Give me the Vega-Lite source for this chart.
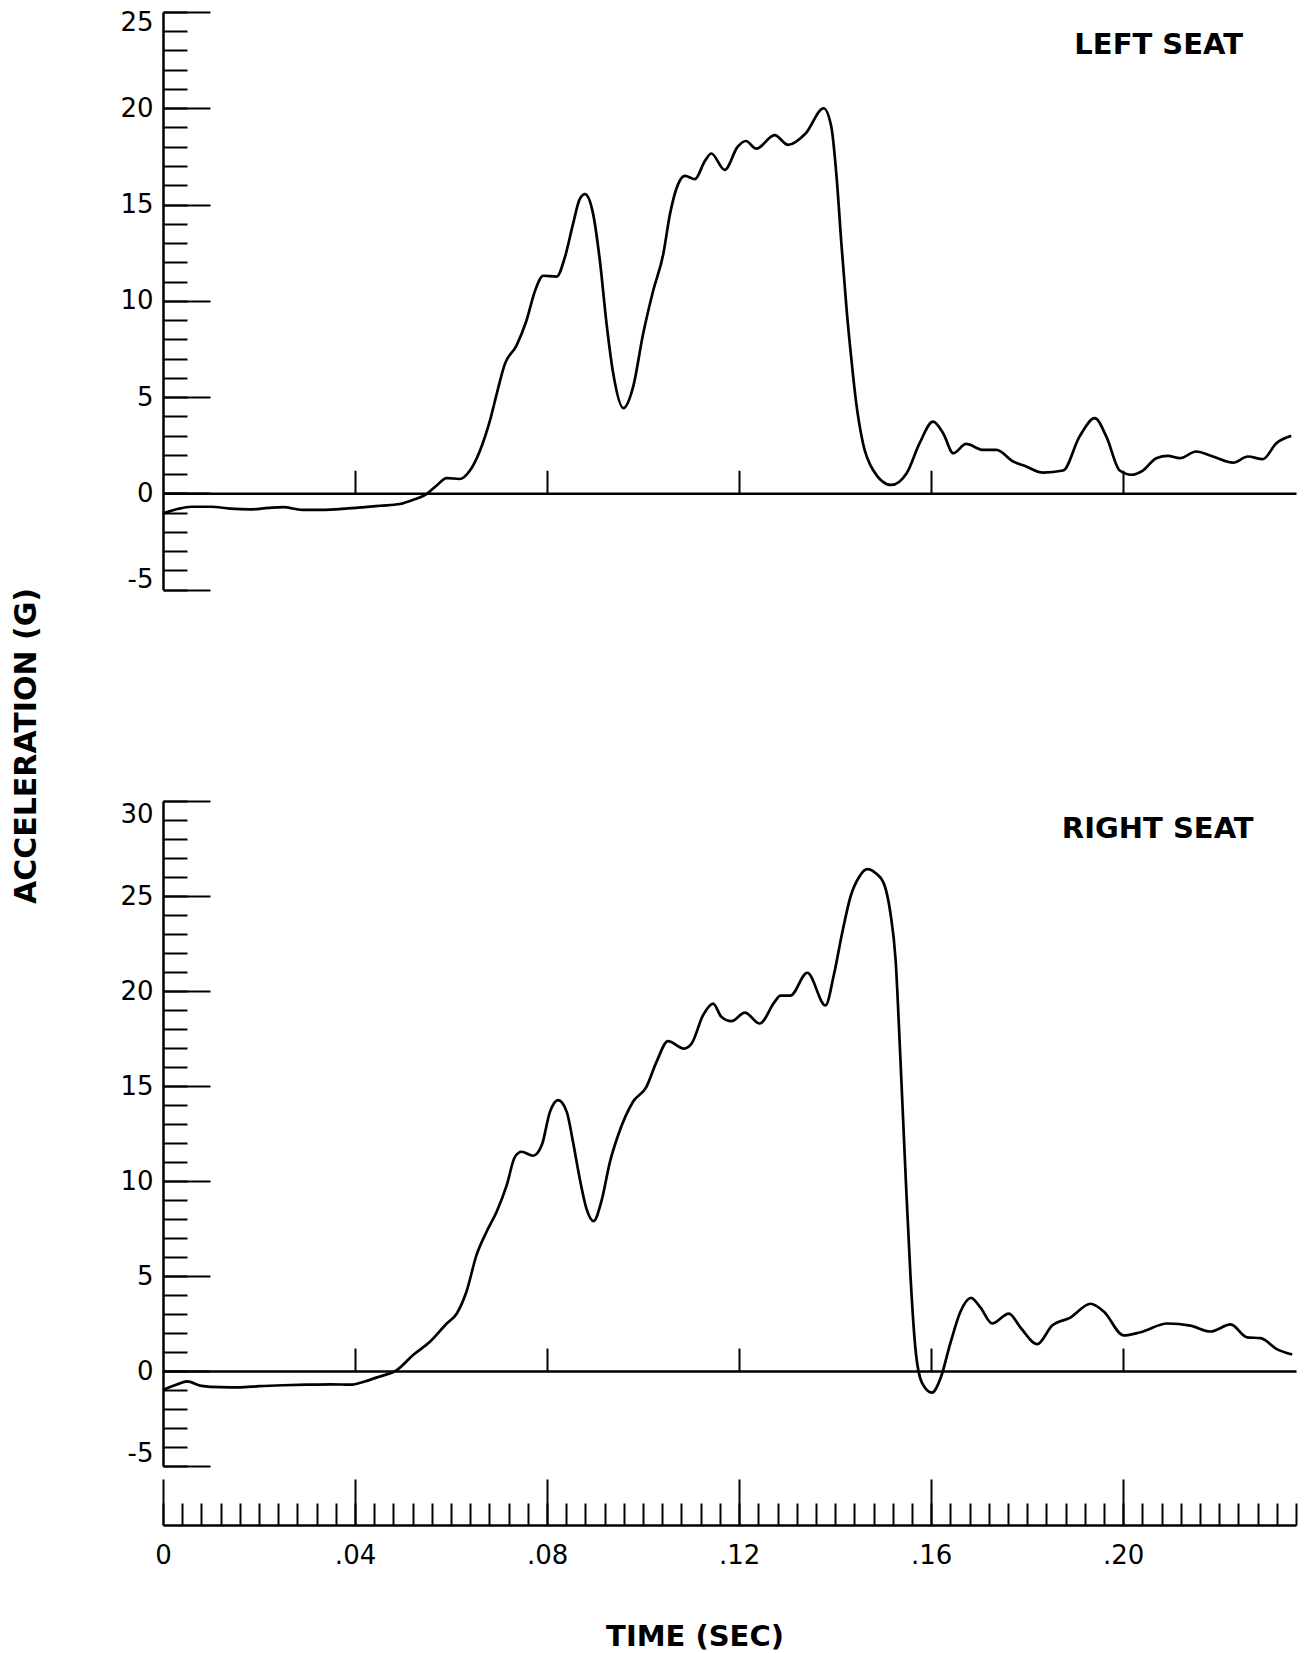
{
  "$schema": "https://vega.github.io/schema/vega-lite/v6.json",
  "background": "white",
  "padding": {"left": 11, "top": 9, "right": 0, "bottom": 0},
  "autosize": {"type": "pad"},
  "config": {
    "view": {"stroke": null},
    "axis": {"grid": false, "labelOverlap": false}
  },
  "datasets": {
    "left": [
      {"t": 0.000, "g": -1.05}, {"t": 0.003, "g": -0.82}, {"t": 0.006, "g": -0.70}, {"t": 0.010, "g": -0.70},
      {"t": 0.014, "g": -0.80}, {"t": 0.018, "g": -0.84}, {"t": 0.022, "g": -0.76}, {"t": 0.025, "g": -0.72},
      {"t": 0.029, "g": -0.86}, {"t": 0.033, "g": -0.86}, {"t": 0.038, "g": -0.80}, {"t": 0.042, "g": -0.72},
      {"t": 0.0452, "g": -0.65}, {"t": 0.0493, "g": -0.56}, {"t": 0.0520, "g": -0.35}, {"t": 0.0549, "g": -0.04},
      {"t": 0.0570, "g": 0.40}, {"t": 0.0591, "g": 0.79}, {"t": 0.0618, "g": 0.74}, {"t": 0.0639, "g": 1.17},
      {"t": 0.0660, "g": 2.2}, {"t": 0.0681, "g": 3.77}, {"t": 0.0695, "g": 5.15}, {"t": 0.0712, "g": 6.71},
      {"t": 0.0736, "g": 7.66}, {"t": 0.0757, "g": 8.96}, {"t": 0.0775, "g": 10.52}, {"t": 0.0792, "g": 11.3},
      {"t": 0.0820, "g": 11.25}, {"t": 0.0837, "g": 12.25}, {"t": 0.0854, "g": 13.98}, {"t": 0.0868, "g": 15.28},
      {"t": 0.0879, "g": 15.54}, {"t": 0.0896, "g": 14.5}, {"t": 0.0910, "g": 12.08}, {"t": 0.0924, "g": 8.79},
      {"t": 0.0938, "g": 6.19}, {"t": 0.0959, "g": 4.42}, {"t": 0.0979, "g": 5.5}, {"t": 0.1000, "g": 8.27},
      {"t": 0.1021, "g": 10.52}, {"t": 0.1042, "g": 12.42}, {"t": 0.1056, "g": 14.5}, {"t": 0.1073, "g": 16.06},
      {"t": 0.1087, "g": 16.49}, {"t": 0.1108, "g": 16.32}, {"t": 0.1129, "g": 17.27}, {"t": 0.1142, "g": 17.65},
      {"t": 0.1170, "g": 16.8}, {"t": 0.1197, "g": 18.0}, {"t": 0.1214, "g": 18.3}, {"t": 0.1236, "g": 17.9},
      {"t": 0.1274, "g": 18.6}, {"t": 0.1302, "g": 18.1}, {"t": 0.1339, "g": 18.7}, {"t": 0.1376, "g": 20.0},
      {"t": 0.1392, "g": 19.05}, {"t": 0.1403, "g": 16.45}, {"t": 0.1413, "g": 12.99}, {"t": 0.1424, "g": 9.53},
      {"t": 0.1434, "g": 6.93}, {"t": 0.1444, "g": 4.68}, {"t": 0.1458, "g": 2.6}, {"t": 0.1479, "g": 1.21},
      {"t": 0.1517, "g": 0.43}, {"t": 0.1549, "g": 1.04}, {"t": 0.1576, "g": 2.6}, {"t": 0.1604, "g": 3.72},
      {"t": 0.1625, "g": 3.12}, {"t": 0.1646, "g": 2.08}, {"t": 0.1673, "g": 2.56}, {"t": 0.1708, "g": 2.25},
      {"t": 0.1736, "g": 2.25}, {"t": 0.1771, "g": 1.65}, {"t": 0.1798, "g": 1.39}, {"t": 0.1833, "g": 1.07},
      {"t": 0.1875, "g": 1.18}, {"t": 0.1909, "g": 2.94}, {"t": 0.1941, "g": 3.9}, {"t": 0.1965, "g": 2.94},
      {"t": 0.1993, "g": 1.18}, {"t": 0.2017, "g": 0.96}, {"t": 0.2041, "g": 1.18}, {"t": 0.2069, "g": 1.82},
      {"t": 0.2093, "g": 1.94}, {"t": 0.2118, "g": 1.82}, {"t": 0.2152, "g": 2.17}, {"t": 0.2187, "g": 1.91},
      {"t": 0.2229, "g": 1.59}, {"t": 0.2260, "g": 1.91}, {"t": 0.2291, "g": 1.77}, {"t": 0.2319, "g": 2.6},
      {"t": 0.2350, "g": 2.98}
    ],
    "right": [
      {"t": 0.000, "g": -1.0}, {"t": 0.003, "g": -0.70}, {"t": 0.005, "g": -0.55}, {"t": 0.008, "g": -0.78},
      {"t": 0.012, "g": -0.85}, {"t": 0.016, "g": -0.86}, {"t": 0.020, "g": -0.80}, {"t": 0.025, "g": -0.75},
      {"t": 0.030, "g": -0.72}, {"t": 0.035, "g": -0.70}, {"t": 0.039, "g": -0.72}, {"t": 0.042, "g": -0.55},
      {"t": 0.045, "g": -0.30}, {"t": 0.0487, "g": 0.05}, {"t": 0.0521, "g": 0.84}, {"t": 0.0556, "g": 1.54},
      {"t": 0.0591, "g": 2.5}, {"t": 0.0612, "g": 3.03}, {"t": 0.0632, "g": 4.17}, {"t": 0.0653, "g": 6.1},
      {"t": 0.0674, "g": 7.33}, {"t": 0.0695, "g": 8.38}, {"t": 0.0716, "g": 9.78}, {"t": 0.0733, "g": 11.27},
      {"t": 0.0747, "g": 11.54}, {"t": 0.0771, "g": 11.33}, {"t": 0.0789, "g": 11.89}, {"t": 0.0806, "g": 13.64},
      {"t": 0.0823, "g": 14.26}, {"t": 0.0841, "g": 13.64}, {"t": 0.0854, "g": 12.06}, {"t": 0.0868, "g": 10.13},
      {"t": 0.0882, "g": 8.55}, {"t": 0.0897, "g": 7.89}, {"t": 0.0913, "g": 8.91}, {"t": 0.0931, "g": 11.01},
      {"t": 0.0948, "g": 12.41}, {"t": 0.0979, "g": 14.17}, {"t": 0.1007, "g": 14.96}, {"t": 0.1028, "g": 16.27},
      {"t": 0.1052, "g": 17.36}, {"t": 0.1085, "g": 16.97}, {"t": 0.1101, "g": 17.23}, {"t": 0.1125, "g": 18.73},
      {"t": 0.1146, "g": 19.34}, {"t": 0.1163, "g": 18.64}, {"t": 0.1184, "g": 18.41}, {"t": 0.1212, "g": 18.86},
      {"t": 0.1243, "g": 18.29}, {"t": 0.1274, "g": 19.43}, {"t": 0.1286, "g": 19.76}, {"t": 0.1307, "g": 19.76},
      {"t": 0.1342, "g": 20.96}, {"t": 0.1380, "g": 19.24}, {"t": 0.1397, "g": 20.8}, {"t": 0.1415, "g": 23.09},
      {"t": 0.1432, "g": 24.96}, {"t": 0.1450, "g": 26.0}, {"t": 0.1467, "g": 26.41}, {"t": 0.1484, "g": 26.21},
      {"t": 0.1501, "g": 25.69}, {"t": 0.1515, "g": 24.13}, {"t": 0.1526, "g": 21.63}, {"t": 0.1536, "g": 16.43},
      {"t": 0.1547, "g": 10.19}, {"t": 0.1557, "g": 4.99}, {"t": 0.1567, "g": 1.25}, {"t": 0.1581, "g": -0.62},
      {"t": 0.1602, "g": -1.14}, {"t": 0.1619, "g": -0.42}, {"t": 0.1640, "g": 1.46}, {"t": 0.1661, "g": 3.12},
      {"t": 0.1683, "g": 3.85}, {"t": 0.1703, "g": 3.33}, {"t": 0.1727, "g": 2.50}, {"t": 0.1762, "g": 3.02},
      {"t": 0.1786, "g": 2.29}, {"t": 0.1821, "g": 1.41}, {"t": 0.1852, "g": 2.39}, {"t": 0.1890, "g": 2.81},
      {"t": 0.1932, "g": 3.54}, {"t": 0.1960, "g": 3.12}, {"t": 0.2001, "g": 1.87}, {"t": 0.2036, "g": 2.04},
      {"t": 0.2092, "g": 2.50}, {"t": 0.2140, "g": 2.39}, {"t": 0.2182, "g": 2.08}, {"t": 0.2224, "g": 2.45},
      {"t": 0.2258, "g": 1.77}, {"t": 0.2286, "g": 1.73}, {"t": 0.2321, "g": 1.14}, {"t": 0.2352, "g": 0.87}
    ]
  },
  "bounds": "flush",
  "spacing": 211,
  "vconcat": [
    {
      "width": 1133,
      "height": 577.5,
      "data": {"name": "left"},
      "layer": [
        {
          "mark": {"type": "line", "color": "black", "strokeWidth": 2.7, "interpolate": "monotone"},
          "encoding": {
            "x": {
              "field": "t", "type": "quantitative",
              "scale": {"domain": [0, 0.236], "nice": false, "zero": false},
              "axis": {
                "orient": "bottom", "offset": -96.25,
                "values": [0.04, 0.08, 0.12, 0.16, 0.2],
                "tickSize": -23, "tickWidth": 2, "tickColor": "black",
                "domainColor": "black", "domainWidth": 2.5,
                "labels": false, "title": null, "grid": false
              }
            },
            "y": {
              "field": "g", "type": "quantitative",
              "scale": {"domain": [-5, 25], "nice": false, "zero": false},
              "axis": {
                "orient": "left",
                "values": [-5, 0, 5, 10, 15, 20, 25],
                "tickSize": -47, "tickWidth": 2.2, "tickColor": "black",
                "domainColor": "black", "domainWidth": 2.5,
                "labelFont": "DejaVu Sans", "labelFontSize": 26, "labelColor": "black",
                "labelPadding": 57, "labelFlush": true, "labelFlushOffset": 3,
                "labelExpr": "datum.value < 0 ? '-' + abs(datum.value) : '' + datum.value",
                "title": "ACCELERATION (G)", "titleFont": "DejaVu Sans", "titleFontWeight": "bold",
                "titleFontSize": 30, "titleColor": "black",
                "titleX": -137, "titleY": 733.5, "titleAngle": -90,
                "titleAlign": "center", "titleBaseline": "middle",
                "grid": false
              }
            }
          }
        },
        {
          "mark": {"type": "point", "opacity": 0},
          "encoding": {
            "x": {"field": "t", "type": "quantitative", "axis": null},
            "y": {
              "field": "g", "type": "quantitative",
              "axis": {
                "orient": "left",
                "values": [-5, -4, -3, -2, -1, 0, 1, 2, 3, 4, 5, 6, 7, 8, 9, 10, 11, 12, 13, 14, 15, 16, 17, 18, 19, 20, 21, 22, 23, 24, 25],
                "tickSize": -24, "tickWidth": 2, "tickColor": "black",
                "domain": false, "labels": false, "title": null, "grid": false
              }
            }
          }
        },
        {
          "data": {"values": [{}]},
          "mark": {"type": "text", "font": "DejaVu Sans", "fontWeight": "bold", "fontSize": 29, "color": "black", "align": "center", "baseline": "middle"},
          "encoding": {
            "x": {"datum": 0.2074, "type": "quantitative", "axis": null},
            "y": {"datum": 23.31, "type": "quantitative", "axis": null},
            "text": {"value": "LEFT SEAT"}
          }
        }
      ],
      "resolve": {"axis": {"x": "independent", "y": "independent"}}
    },
    {
      "width": 1133,
      "height": 665,
      "data": {"name": "right"},
      "layer": [
        {
          "mark": {"type": "line", "color": "black", "strokeWidth": 2.7, "interpolate": "monotone"},
          "encoding": {
            "x": {
              "field": "t", "type": "quantitative",
              "scale": {"domain": [0, 0.236], "nice": false, "zero": false},
              "axis": {
                "orient": "bottom", "offset": -95,
                "values": [0.04, 0.08, 0.12, 0.16, 0.2],
                "tickSize": -23, "tickWidth": 2, "tickColor": "black",
                "domainColor": "black", "domainWidth": 2.5,
                "labels": false, "title": null, "grid": false
              }
            },
            "y": {
              "field": "g", "type": "quantitative",
              "scale": {"domain": [-5, 30], "nice": false, "zero": false},
              "axis": {
                "orient": "left",
                "values": [-5, 0, 5, 10, 15, 20, 25, 30],
                "tickSize": -47, "tickWidth": 2.2, "tickColor": "black",
                "domainColor": "black", "domainWidth": 2.5,
                "labelFont": "DejaVu Sans", "labelFontSize": 26, "labelColor": "black",
                "labelPadding": 57, "labelFlush": true, "labelFlushOffset": 0,
                "labelExpr": "datum.value < 0 ? '-' + abs(datum.value) : '' + datum.value",
                "title": null, "grid": false
              }
            }
          }
        },
        {
          "mark": {"type": "point", "opacity": 0},
          "encoding": {
            "x": {
              "field": "t", "type": "quantitative",
              "axis": {
                "orient": "bottom", "offset": 59,
                "values": [0, 0.04, 0.08, 0.12, 0.16, 0.2],
                "tickSize": -46, "tickWidth": 2, "tickColor": "black",
                "domain": false,
                "labelFont": "DejaVu Sans", "labelFontSize": 26, "labelColor": "black",
                "labelPadding": 63.4, "labelFlush": false,
                "labelExpr": "datum.value == 0 ? '0' : replace(format(datum.value, '.2f'), '0.', '.')",
                "title": "TIME (SEC)", "titleFont": "DejaVu Sans", "titleFontWeight": "bold",
                "titleFontSize": 29, "titleColor": "black",
                "titleX": 531.5, "titleY": 111, "titleAlign": "center", "titleBaseline": "middle",
                "grid": false
              }
            },
            "y": {
              "field": "g", "type": "quantitative",
              "axis": {
                "orient": "left",
                "values": [-5, -4, -3, -2, -1, 0, 1, 2, 3, 4, 5, 6, 7, 8, 9, 10, 11, 12, 13, 14, 15, 16, 17, 18, 19, 20, 21, 22, 23, 24, 25, 26, 27, 28, 29, 30],
                "tickSize": -24, "tickWidth": 2, "tickColor": "black",
                "domain": false, "labels": false, "title": null, "grid": false
              }
            }
          }
        },
        {
          "mark": {"type": "point", "opacity": 0},
          "encoding": {
            "x": {
              "field": "t", "type": "quantitative",
              "axis": {
                "orient": "bottom", "offset": 59,
                "values": [0, 0.004, 0.008, 0.012, 0.016, 0.02, 0.024, 0.028, 0.032, 0.036, 0.04, 0.044, 0.048, 0.052, 0.056, 0.06, 0.064, 0.068, 0.072, 0.076, 0.08, 0.084, 0.088, 0.092, 0.096, 0.1, 0.104, 0.108, 0.112, 0.116, 0.12, 0.124, 0.128, 0.132, 0.136, 0.14, 0.144, 0.148, 0.152, 0.156, 0.16, 0.164, 0.168, 0.172, 0.176, 0.18, 0.184, 0.188, 0.192, 0.196, 0.2, 0.204, 0.208, 0.212, 0.216, 0.22, 0.224, 0.228, 0.232, 0.236],
                "tickSize": -22, "tickWidth": 2, "tickColor": "black",
                "domainColor": "black", "domainWidth": 2.5,
                "labels": false, "title": null, "grid": false
              }
            },
            "y": {"field": "g", "type": "quantitative", "axis": null}
          }
        },
        {
          "data": {"values": [{}]},
          "mark": {"type": "text", "font": "DejaVu Sans", "fontWeight": "bold", "fontSize": 29, "color": "black", "align": "center", "baseline": "middle"},
          "encoding": {
            "x": {"datum": 0.2072, "type": "quantitative", "axis": null},
            "y": {"datum": 28.54, "type": "quantitative", "axis": null},
            "text": {"value": "RIGHT SEAT"}
          }
        }
      ],
      "resolve": {"axis": {"x": "independent", "y": "independent"}}
    }
  ]
}
